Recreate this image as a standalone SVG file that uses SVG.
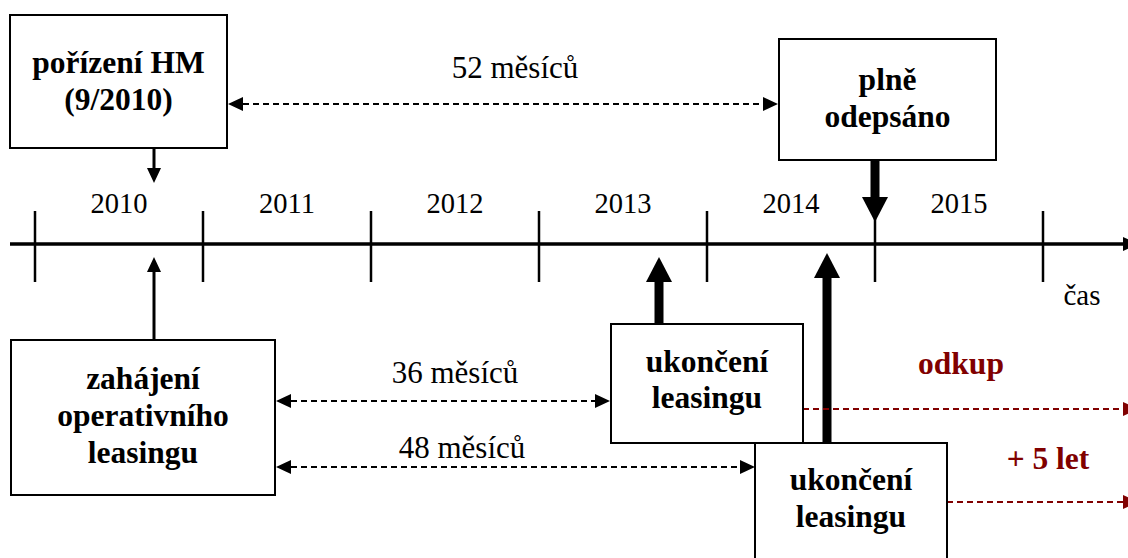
<svg xmlns="http://www.w3.org/2000/svg" width="1128" height="558" viewBox="0 0 1128 558">
  <style>
    text { font-family: 'Liberation Serif', 'Times New Roman', serif; text-anchor: middle; fill: #000; }
    .bold { font-weight: bold; font-size: 31.5px; }
    .year { font-size: 28.5px; }
    .span { font-size: 31px; }
    .red { fill: #800000; font-weight: bold; font-size: 31.5px; }
    .box { fill: #fff; stroke: #000; stroke-width: 2; }
    .axis { stroke: #000; stroke-width: 3.5; fill: none; }
    .tick { stroke: #000; stroke-width: 2.5; }
    .thin { stroke: #000; stroke-width: 3; fill: none; }
    .thick { stroke: #000; stroke-width: 9; fill: none; }
    .dash { stroke: #000; stroke-width: 2; stroke-dasharray: 6 4; fill: none; }
    .dashred { stroke: #800000; stroke-width: 2; stroke-dasharray: 6 4; fill: none; }
  </style>
  <defs>
    <!-- small head, base sits at the line end -->
    <marker id="ah" viewBox="0 0 15 14" refX="0" refY="7" markerWidth="15" markerHeight="14" orient="auto-start-reverse" markerUnits="userSpaceOnUse">
      <path d="M0,0 L15,7 L0,14 z" fill="#000"/>
    </marker>
    <marker id="ahRed" viewBox="0 0 15 14" refX="0" refY="7" markerWidth="15" markerHeight="14" orient="auto" markerUnits="userSpaceOnUse">
      <path d="M0,0 L15,7 L0,14 z" fill="#800000"/>
    </marker>
    <!-- large head for the bold arrows -->
    <marker id="ahBig" viewBox="0 0 25 26" refX="0" refY="13" markerWidth="25" markerHeight="26" orient="auto" markerUnits="userSpaceOnUse">
      <path d="M0,0 L25,13 L0,26 z" fill="#000"/>
    </marker>
  </defs>

  <!-- time axis -->
  <g id="axis">
    <line class="axis" x1="10" y1="244" x2="1123" y2="244" marker-end="url(#ah)"/>
    <line class="tick" x1="35" y1="211" x2="35" y2="282"/>
    <line class="tick" x1="203" y1="211" x2="203" y2="282"/>
    <line class="tick" x1="371" y1="211" x2="371" y2="282"/>
    <line class="tick" x1="539" y1="211" x2="539" y2="282"/>
    <line class="tick" x1="707" y1="211" x2="707" y2="282"/>
    <line class="tick" x1="875" y1="211" x2="875" y2="282"/>
    <line class="tick" x1="1043" y1="211" x2="1043" y2="282"/>
    <text class="year" x="119" y="213">2010</text>
    <text class="year" x="287" y="213">2011</text>
    <text class="year" x="455" y="213">2012</text>
    <text class="year" x="623" y="213">2013</text>
    <text class="year" x="791" y="213">2014</text>
    <text class="year" x="959" y="213">2015</text>
    <text class="year" x="1082" y="305" style="font-size:29px">čas</text>
  </g>

  <!-- connectors -->
  <g id="connectors">
    <line class="thin" x1="154" y1="148" x2="154" y2="168" marker-end="url(#ah)"/>
    <line class="thin" x1="154" y1="340" x2="154" y2="272" marker-end="url(#ah)"/>
    <line class="thick" x1="875" y1="160" x2="875" y2="197" marker-end="url(#ahBig)"/>
    <line class="thick" x1="659" y1="324" x2="659" y2="282" marker-end="url(#ahBig)"/>
    <line class="thick" x1="827" y1="443" x2="827" y2="278" marker-end="url(#ahBig)"/>
    <line class="dash" x1="243" y1="104" x2="763" y2="104" marker-start="url(#ah)" marker-end="url(#ah)"/>
    <line class="dash" x1="291" y1="401" x2="595" y2="401" marker-start="url(#ah)" marker-end="url(#ah)"/>
    <line class="dash" x1="291" y1="467" x2="740" y2="467" marker-start="url(#ah)" marker-end="url(#ah)"/>
    <line class="dashred" x1="803" y1="409" x2="1123" y2="409" marker-end="url(#ahRed)"/>
    <line class="dashred" x1="947" y1="502" x2="1123" y2="502" marker-end="url(#ahRed)"/>
    <text class="span" x="515" y="78">52 měsíců</text>
    <text class="span" x="455" y="383">36 měsíců</text>
    <text class="span" x="462" y="458">48 měsíců</text>
    <text class="red" x="961" y="374">odkup</text>
    <text class="red" x="1048" y="469">+ 5 let</text>
  </g>

  <g id="node-porizeni">
    <rect class="box" x="10" y="15" width="217" height="133"/>
    <text class="bold" x="118.5" y="73">pořízení HM</text>
    <text class="bold" x="118.5" y="110">(9/2010)</text>
  </g>

  <g id="node-odepsano">
    <rect class="box" x="779" y="39" width="217" height="121"/>
    <text class="bold" x="887.5" y="90">plně</text>
    <text class="bold" x="887.5" y="127">odepsáno</text>
  </g>

  <g id="node-zahajeni">
    <rect class="box" x="11" y="340" width="264" height="155"/>
    <text class="bold" x="143" y="389">zahájení</text>
    <text class="bold" x="143" y="426">operativního</text>
    <text class="bold" x="143" y="463">leasingu</text>
  </g>

  <g id="node-ukonceni-36">
    <rect class="box" x="611" y="324" width="192" height="119"/>
    <text class="bold" x="707" y="372">ukončení</text>
    <text class="bold" x="707" y="408">leasingu</text>
  </g>

  <g id="node-ukonceni-48">
    <rect class="box" x="755" y="443" width="192" height="130"/>
    <text class="bold" x="851" y="490">ukončení</text>
    <text class="bold" x="851" y="527">leasingu</text>
  </g>
</svg>
